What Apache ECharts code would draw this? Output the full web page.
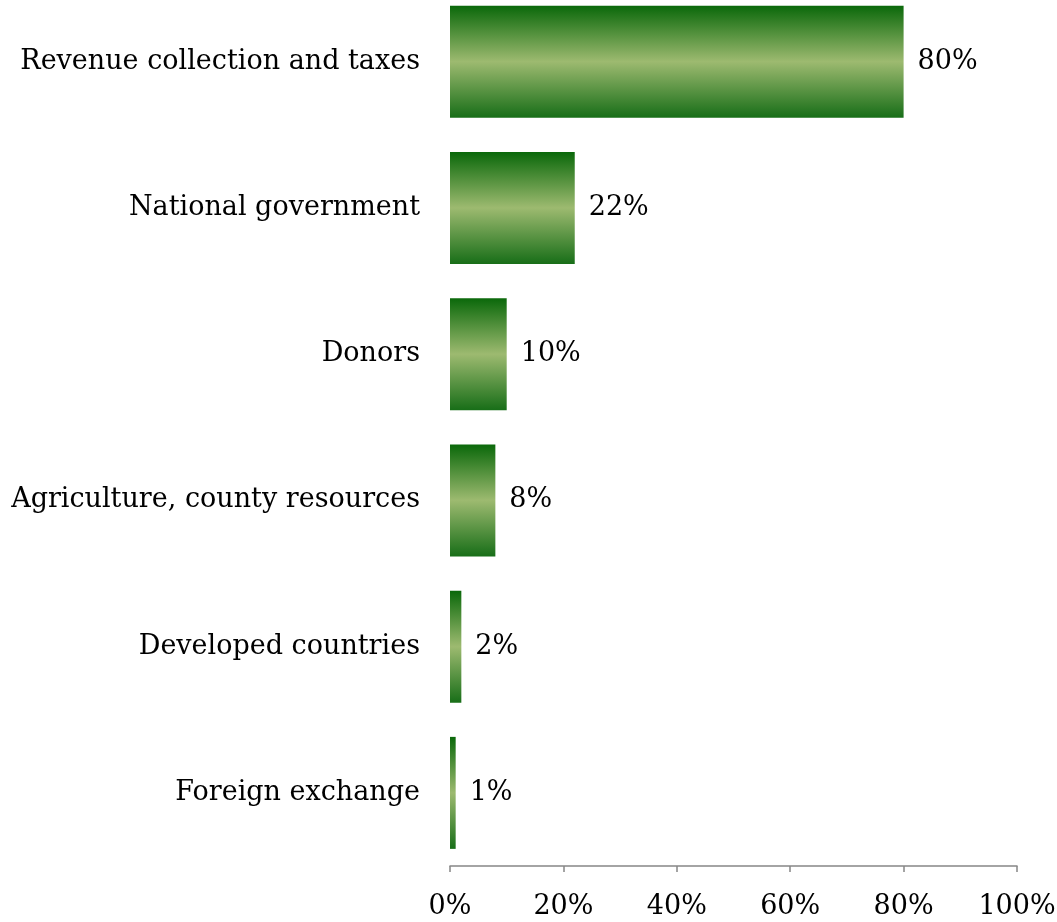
<!DOCTYPE html>
<html>
<head>
<meta charset="utf-8">
<script src="https://cdn.jsdelivr.net/npm/echarts@6/dist/echarts.min.js"></script>
<style>
  html, body { margin: 0; padding: 0; background: #ffffff; }
  #chart { width: 1057px; height: 922px; }
</style>
</head>
<body>
<div id="chart"></div>
<script>
// Sources of revenue, share of respondents (%)
const categories = [
  'Revenue collection and taxes',
  'National government',
  'Donors',
  'Agriculture, county resources',
  'Developed countries',
  'Foreign exchange'
];
const shares = [80, 22, 10, 8, 2, 1];
const xTicks = [0, 20, 40, 60, 80, 100];

const FONT = '"DejaVu Serif", "Liberation Serif", serif';
const FS = 27;

const barFill = new echarts.graphic.LinearGradient(0, 0, 0, 1, [
  { offset: 0, color: '#0a680a' },
  { offset: 0.5, color: '#9dba70' },
  { offset: 1, color: '#186e18' }
]);

const chart = echarts.init(document.getElementById('chart'), null, { renderer: 'canvas' });
chart.setOption({
  animation: false,
  backgroundColor: '#ffffff',
  grid: { left: 450, right: 40, top: -11.5, height: 877.5, outerBoundsMode: 'none', containLabel: false },
  xAxis: {
    type: 'value',
    min: xTicks[0],
    max: xTicks[xTicks.length - 1],
    interval: xTicks[1] - xTicks[0],
    axisLine: { show: true, lineStyle: { color: '#868686', width: 1.5 } },
    axisTick: { show: true, length: 6, lineStyle: { color: '#868686', width: 1.5 } },
    splitLine: { show: false },
    axisLabel: {
      margin: 27,
      color: '#000000',
      fontFamily: FONT,
      fontSize: FS,
      formatter: v => v + '%'
    }
  },
  yAxis: {
    type: 'category',
    inverse: true,
    data: categories,
    axisLine: { show: false },
    axisTick: { show: false },
    axisLabel: {
      margin: 30,
      color: '#000000',
      fontFamily: FONT,
      fontSize: FS,
      padding: [3, 0, 0, 0]
    }
  },
  series: [{
    type: 'bar',
    data: shares,
    barWidth: 112,
    itemStyle: { color: barFill },
    label: {
      show: true,
      position: 'right',
      distance: 14,
      color: '#000000',
      fontFamily: FONT,
      fontSize: FS,
      padding: [3, 0, 0, 0],
      formatter: p => p.value + '%'
    }
  }]
});
</script>
</body>
</html>
